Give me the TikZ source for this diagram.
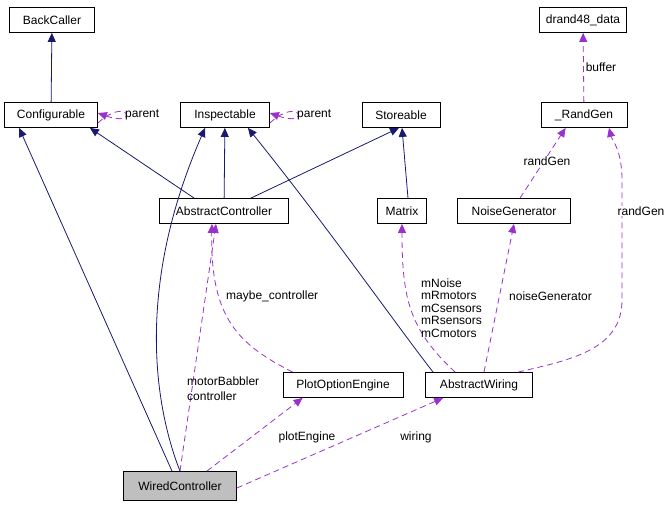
\documentclass[tikz,border=0pt]{standalone}
\usepackage{fontspec}
\setmainfont{Liberation Sans}
\usetikzlibrary{arrows.meta}
\begin{document}
\begin{tikzpicture}[x=1pt,y=-1pt,
  box/.style={draw,thick,minimum height=25pt,inner sep=3pt,font=\fontsize{12}{14}\selectfont},
  inh/.style={draw={rgb,255:red,25;green,25;blue,112},thick,-{Triangle[length=9pt,width=8pt]}},
  use/.style={draw={rgb,255:red,153;green,50;blue,204},thick,dash pattern=on 6pt off 4pt,-{Triangle[length=9pt,width=8pt]}},
  lab/.style={font=\fontsize{12}{15}\selectfont,inner sep=1pt}]
\useasboundingbox (0,0) rectangle (672,507);
\node[box,minimum width=85pt] (bc) at (52,20) {BackCaller};
\node[box,minimum width=93pt] (cf) at (51,115) {Configurable};
\node[box,minimum width=89pt] (in) at (225,115) {Inspectable};
\node[box,minimum width=78pt] (st) at (401,115) {Storeable};
\node[box,minimum width=87pt] (dr) at (583,20) {drand48\_data};
\node[box,minimum width=86pt] (rg) at (584,115) {\_RandGen};
\node[box,minimum width=129pt] (ac) at (224,211) {AbstractController};
\node[box,minimum width=49pt] (mx) at (402,211) {Matrix};
\node[box,minimum width=113pt] (ng) at (514,211) {NoiseGenerator};
\node[box,minimum width=120pt] (po) at (343,385) {PlotOptionEngine};
\node[box,minimum width=107pt] (aw) at (479,385) {AbstractWiring};
\node[box,minimum width=113pt,minimum height=29pt,fill={rgb,255:red,191;green,191;blue,191}] (wc) at (180,486) {WiredController};
\draw[inh] (cf) -- (bc);
\draw[inh] ([xshift=35pt]ac.north west) -- ([xshift=-8pt]cf.south east);
\draw[inh] (ac) -- (in);
\draw[inh] ([xshift=-38pt]ac.north east) -- ([xshift=-2pt]st.south);
\draw[inh] ([xshift=6pt]mx.north) -- ([xshift=1pt]st.south);
\draw[inh] ([xshift=8pt]aw.north west) .. controls (400,330) and (330,230) .. ([xshift=-22pt]in.south east);
\draw[inh] ([xshift=-8pt]wc.north) -- ([xshift=15pt]cf.south west);
\draw[inh] (wc.north) .. controls (160,420) and (130,300) .. ([xshift=25pt]in.south west);
\draw[use] ([yshift=-8pt]cf.east) .. controls (128,95) and (140,128) .. ([yshift=2pt]cf.east);
\node[lab,anchor=west] at (124,115) {parent};
\draw[use] ([yshift=-8pt]in.east) .. controls (300,95) and (312,128) .. ([yshift=2pt]in.east);
\node[lab,anchor=west] at (296,115) {parent};
\draw[use] (rg) -- (dr);
\node[lab,fill=white] at (601,67) {buffer};
\draw[use] ([xshift=6pt]ng.north) -- ([xshift=25pt]rg.south west);
\node[lab,fill=white] at (547,161) {randGen};
\draw[use] ([xshift=-15pt]aw.north east) .. controls (570,360) and (622,350) .. (622,300) -- (622,180) .. controls (622,150) and (612,140) .. ([xshift=25pt]rg.south);
\node[lab,fill=white] at (641,211) {randGen};
\draw[use] ([xshift=30pt]aw.north west) .. controls (410,330) and (402,300) .. (mx.south);
\node[lab,align=left,anchor=west,font=\fontsize{12}{12.5}\selectfont] at (420,308) {mNoise\\mRmotors\\mCsensors\\mRsensors\\mCmotors};
\draw[use] ([xshift=5pt]aw.north) -- (ng.south);
\node[lab,anchor=west] at (508,296) {noiseGenerator};
\draw[use] ([xshift=10pt]po.north west) .. controls (240,345) and (210,320) .. ([xshift=-12pt]ac.south);
\node[lab,anchor=west] at (225,296) {maybe\_controller};
\draw[use] (wc.north) -- ([xshift=-8pt]ac.south);
\node[lab,align=left,anchor=west] at (186,389) {motorBabbler\\controller};
\draw[use] ([xshift=-30pt]wc.north east) -- ([xshift=20pt]po.south west);
\node[lab] at (307,437) {plotEngine};
\draw[use] ([yshift=-2pt]wc.east) -- ([xshift=18pt]aw.south west);
\node[lab] at (416,437) {wiring};
\end{tikzpicture}
\end{document}
